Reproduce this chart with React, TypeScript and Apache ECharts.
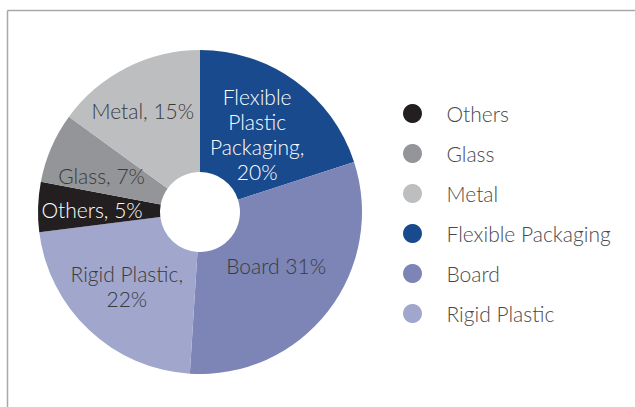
import React, { useEffect, useRef } from "react";
import * as echarts from "echarts";

const categories = ["Flexible Packaging", "Board", "Rigid Plastic", "Others", "Glass", "Metal"];
const values = [20, 31, 22, 5, 7, 15];
const sliceLabels = [
  "Flexible\nPlastic\nPackaging,\n20%",
  "Board 31%",
  "Rigid Plastic,\n22%",
  "Others, 5%",
  "Glass, 7%",
  "Metal, 15%",
];
const colors = ["#184a8d", "#7c85b6", "#a0a6cc", "#231f20", "#939598", "#bcbec0"];
const labelColors = ["#ffffff", "#3a3a3c", "#3a3a3c", "#ffffff", "#3a3a3c", "#3a3a3c"];
const labelShift = [
  [-4, 6],
  [-6, -10],
  [-2, -2],
  [-4, 1],
  [-3, 5],
  [-10, -9],
];
const legendOrder = ["Others", "Glass", "Metal", "Flexible Packaging", "Board", "Rigid Plastic"];

export default function App() {
  const ref = useRef<HTMLDivElement>(null);
  useEffect(() => {
    const chart = echarts.init(ref.current!, null, { renderer: "svg" });
    chart.setOption({
      animation: false,
      color: colors,
      graphic: [
        { type: "line", shape: { x1: 7.5, y1: 10.5, x2: 635, y2: 10.5 }, style: { stroke: "#a7a9ac", lineWidth: 1.5 } },
        { type: "line", shape: { x1: 7.5, y1: 10.5, x2: 7.5, y2: 407 }, style: { stroke: "#a7a9ac", lineWidth: 1.5 } },
      ],
      legend: {
        orient: "vertical",
        left: 398,
        top: 98,
        icon: "circle",
        itemWidth: 58,
        itemHeight: 19,
        itemGap: 19,
        data: legendOrder,
        textStyle: { fontFamily: "Lato", fontWeight: 300, fontSize: 21, color: "#4a4a4c" },
      },
      series: [
        {
          type: "pie",
          center: [200, 212],
          radius: [40, 162],
          startAngle: 90,
          clockwise: true,
          silent: true,
          avoidLabelOverlap: false,
          labelLine: { show: false },
          labelLayout: (p: any) => ({
            dx: labelShift[p.dataIndex][0],
            dy: labelShift[p.dataIndex][1],
            hideOverlap: false,
          }),
          data: categories.map((name, i) => ({
            name,
            value: values[i],
            itemStyle: { color: colors[i] },
            label: {
              show: true,
              position: "inside",
              formatter: sliceLabels[i],
              color: labelColors[i],
              fontFamily: "Lato",
              fontWeight: 300,
              fontSize: 21,
              lineHeight: 25,
              align: "center",
            },
          })),
        },
      ],
    });
    return () => chart.dispose();
  }, []);
  return (
    <div
      ref={ref}
      style={{ position: "absolute", left: 0, top: 0, width: 635, height: 407, background: "#fff" }}
    />
  );
}
